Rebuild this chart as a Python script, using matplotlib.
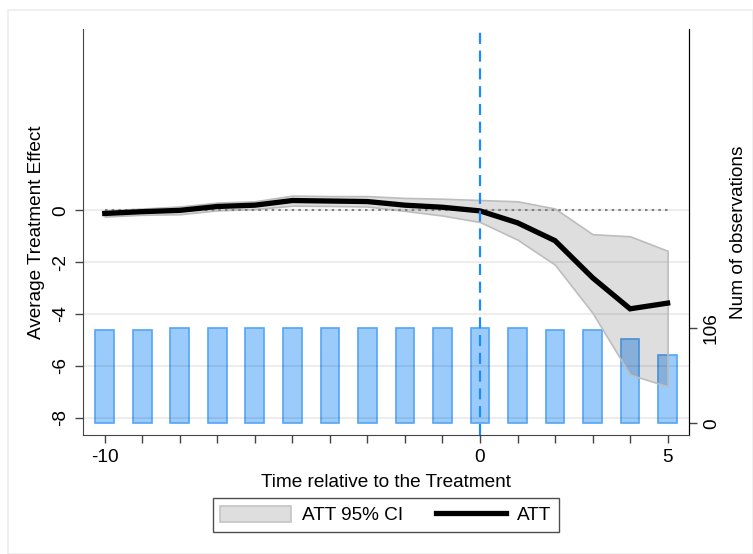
import matplotlib
matplotlib.use("Agg")
import matplotlib.pyplot as plt
from matplotlib.patches import Patch, Rectangle
from matplotlib.lines import Line2D
import numpy as np

plt.rcParams['font.family'] = ['Liberation Sans', 'DejaVu Sans']

periods = list(range(-10, 6))
att = [-0.12, -0.05, 0.0, 0.15, 0.2, 0.38, 0.36, 0.34, 0.2, 0.12, -0.02, -0.48, -1.17, -2.6, -3.8, -3.58]
ci_upper = [0.0, 0.07, 0.15, 0.3, 0.35, 0.57, 0.55, 0.55, 0.48, 0.45, 0.4, 0.35, 0.07, -0.92, -1.0, -1.56]
ci_lower = [-0.24, -0.17, -0.15, 0.0, 0.05, 0.18, 0.17, 0.15, -0.02, -0.2, -0.45, -1.13, -2.1, -3.96, -6.34, -6.79]
n_obs = [103, 103, 106, 106, 106, 106, 106, 106, 106, 106, 106, 106, 104, 103, 93, 76]

left_yticks = [0, -2, -4, -6, -8]
right_yticks = [0, 106]
x_ticklabels = {-10: "-10", 0: "0", 5: "5"}

FS = 13.7

fig = plt.figure(figsize=(7.53, 5.54), dpi=100)
fig.patches.append(Rectangle((8/753, 0), 1 - 8/753, 1 - 10/554, transform=fig.transFigure,
                             fill=False, edgecolor='#eeeeee', lw=1.2))
ax = fig.add_axes([83/753, 1 - 435/554, (689 - 83)/753, (435 - 29)/554])
ax2 = ax.twinx()

# bars on the secondary axis (drawn beneath)
ax2.bar(periods, n_obs, width=0.5, color='#9bcbfb', edgecolor='#55a5f5', linewidth=1.2, zorder=1)
ax2.set_ylim(-12.9, 437)
ax2.set_yticks(right_yticks)
ax2.set_yticklabels([str(t) for t in right_yticks], rotation=90, va='center', fontsize=FS)
ax2.set_ylabel("Num of observations", fontsize=FS, labelpad=7)

# put primary axis on top of secondary
ax.set_zorder(ax2.get_zorder() + 1)
ax.patch.set_visible(False)

for t in left_yticks:
    ax.axhline(t, color=(0, 0, 0, 0.08), lw=1.3, zorder=0)

ax.fill_between(periods, ci_lower, ci_upper, facecolor=(0, 0, 0, 0.13),
                edgecolor='#bdbdbd', lw=1.2, zorder=2)
ax.plot([periods[0], periods[-1]], [0, 0], color='#808080', lw=1.5, ls=(0, (1.2, 2.0)), zorder=3)
ax.plot(periods, att, color='black', lw=3.8, zorder=4, solid_joinstyle='miter')
ax.axvline(0, color='#1a8cff', lw=1.6, ls=(0, (5, 3)), zorder=5)

ax.set_xlim(-10.58, 5.57)
ax.set_ylim(-8.67, 7.0)
ax.set_yticks(left_yticks)
ax.set_yticklabels([str(t) for t in left_yticks], rotation=90, va='center', fontsize=FS)
ax.set_xticks(periods)
ax.set_xticklabels([x_ticklabels.get(p, "") for p in periods], fontsize=FS)
ax.set_xlabel("Time relative to the Treatment", fontsize=FS, labelpad=6)
ax.set_ylabel("Average Treatment Effect", fontsize=FS, labelpad=5)

for a in (ax, ax2):
    a.spines['top'].set_visible(False)
    a.tick_params(length=6, width=1, color='#444444', pad=4)
ax.spines['left'].set_color('#444444')
ax.spines['bottom'].set_color('#444444')
ax2.spines['right'].set_color('#222222')
ax2.spines['left'].set_visible(False)
ax2.spines['bottom'].set_visible(False)

handles = [Patch(facecolor='#dedede', edgecolor='#c4c4c4', lw=1.2),
           Line2D([], [], color='black', lw=3.8)]
leg = fig.legend(handles, ["ATT 95% CI", "ATT"], loc='center', bbox_to_anchor=(386/753, 1 - 515/554),
                 ncol=2, frameon=True, fancybox=False, edgecolor='#222222', fontsize=FS,
                 handlelength=3.7, handleheight=0.9, handletextpad=0.6, columnspacing=1.7,
                 borderpad=0.4)
leg.get_frame().set_linewidth(1.0)

fig.savefig("out.png", dpi=100)
